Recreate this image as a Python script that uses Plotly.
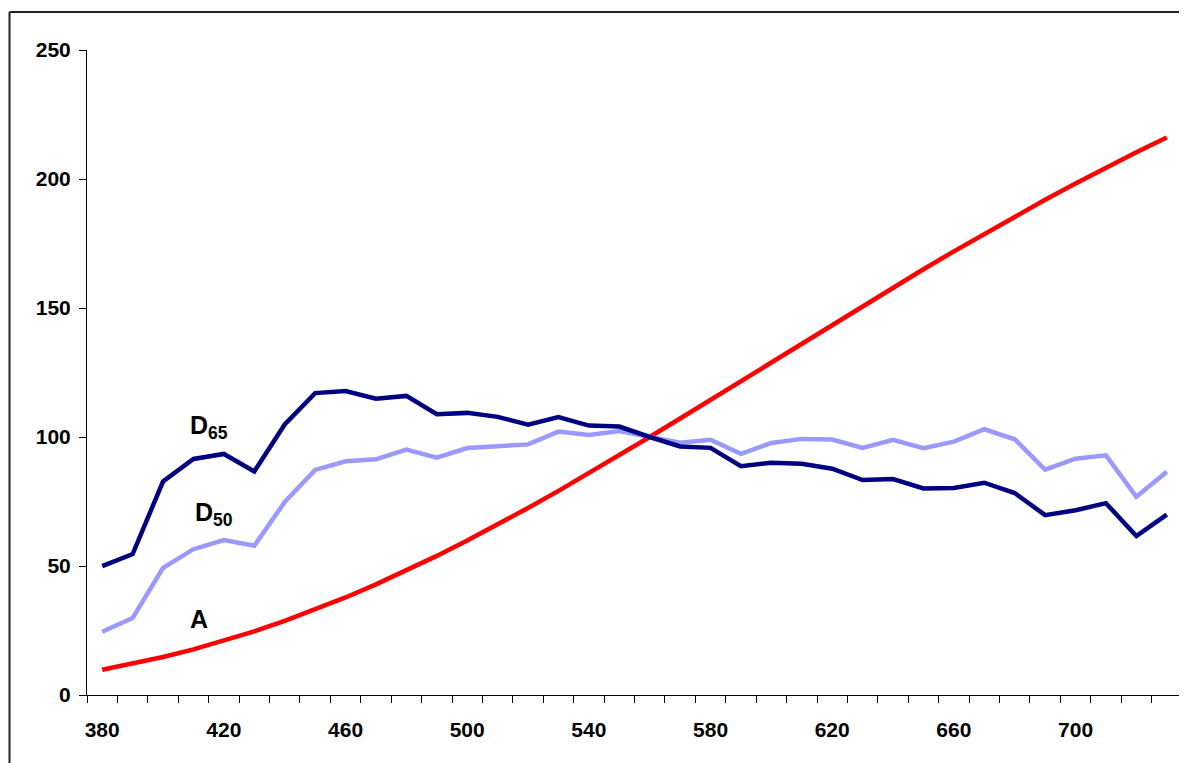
import plotly.graph_objects as go

wavelengths = list(range(380, 731, 10))

d65 = [49.98, 54.65, 82.75, 91.49, 93.43, 86.68, 104.86, 117.01, 117.81, 114.86,
       115.92, 108.81, 109.35, 107.80, 104.79, 107.69, 104.41, 104.05, 100.00, 96.33,
       95.79, 88.69, 90.01, 89.60, 87.70, 83.29, 83.70, 80.03, 80.21, 82.28,
       78.28, 69.72, 71.61, 74.35, 61.60, 69.89]

d50 = [24.49, 29.87, 49.31, 56.51, 60.03, 57.82, 74.82, 87.25, 90.61, 91.37,
       95.11, 91.96, 95.72, 96.61, 97.13, 102.10, 100.75, 102.32, 100.00, 97.74,
       98.92, 93.50, 97.69, 99.27, 99.04, 95.72, 98.86, 95.67, 98.19, 103.00,
       99.13, 87.38, 91.60, 92.89, 76.85, 86.51]

illum_a = [9.80, 12.09, 14.71, 17.68, 20.99, 24.67, 28.70, 33.09, 37.81, 42.87,
           48.24, 53.91, 59.86, 66.06, 72.50, 79.13, 85.95, 92.91, 100.00, 107.18,
           114.44, 121.73, 129.04, 136.35, 143.62, 150.84, 157.98, 165.03, 171.96, 178.77,
           185.43, 191.93, 198.26, 204.41, 210.36, 216.12]

x_tick_labels = [380, 420, 460, 500, 540, 580, 620, 660, 700]
y_tick_labels = [0, 50, 100, 150, 200, 250]

FONT = "Liberation Sans, Arial, sans-serif"

# page body has an 8px margin; figure is sized/offset to compensate
W, H = 1179, 755
ML, MR, MT, MB = 79, 5, 42, 68
PW = W - ML - MR
PH = H - MT - MB
bx = (1.5 - ML) / PW          # left border line (figure x=1.5)
by = (H - MB - 4) / PH        # top border line (figure y=4)

fig = go.Figure()
fig.add_trace(go.Scatter(x=wavelengths, y=illum_a, mode="lines",
                         line=dict(color="#FF0000", width=4.5), name="A"))
fig.add_trace(go.Scatter(x=wavelengths, y=d50, mode="lines",
                         line=dict(color="#9999FF", width=4.5), name="D50"))
fig.add_trace(go.Scatter(x=wavelengths, y=d65, mode="lines",
                         line=dict(color="#000080", width=4.5), name="D65"))

fig.update_layout(
    width=W, height=H,
    margin=dict(l=ML, r=MR, t=MT, b=MB, pad=0),
    paper_bgcolor="white", plot_bgcolor="white",
    showlegend=False,
    font=dict(family=FONT, size=21, color="black"),
    xaxis=dict(
        range=[375, 735], showgrid=False, zeroline=False,
        showline=True, linecolor="black", linewidth=1,
        tickmode="array", tickvals=x_tick_labels,
        ticktext=["<b>%d</b>" % v for v in x_tick_labels],
        ticks="", ticklabelstandoff=16,
        minor=dict(tick0=375, dtick=10, ticks="outside", ticklen=7,
                   tickcolor="black", tickwidth=1, showgrid=False),
    ),
    yaxis=dict(
        range=[0, 250], showgrid=False, zeroline=False,
        showline=True, linecolor="black", linewidth=1,
        tickmode="array", tickvals=y_tick_labels,
        ticktext=["<b>%d</b>" % v for v in y_tick_labels],
        ticks="outside", ticklen=7, tickcolor="black", tickwidth=1,
        ticklabelstandoff=4,
    ),
    annotations=[
        dict(x=408.1, y=103.7, xref="x", yref="y", xanchor="left", yanchor="middle",
             text="<b>D<sub>65</sub></b>", showarrow=False, font=dict(size=25)),
        dict(x=409.9, y=70.2, xref="x", yref="y", xanchor="left", yanchor="middle",
             text="<b>D<sub>50</sub></b>", showarrow=False, font=dict(size=25)),
        dict(x=408.2, y=29.3, xref="x", yref="y", xanchor="left", yanchor="middle",
             text="<b>A</b>", showarrow=False, font=dict(size=25)),
    ],
    shapes=[
        dict(type="line", xref="paper", yref="paper",
             x0=bx, x1=1.2, y0=by, y1=by,
             line=dict(color="#222222", width=2)),
        dict(type="line", xref="paper", yref="paper",
             x0=bx, x1=bx, y0=by, y1=-0.3,
             line=dict(color="#222222", width=2)),
    ],
)

fig.write_html("out.html")
